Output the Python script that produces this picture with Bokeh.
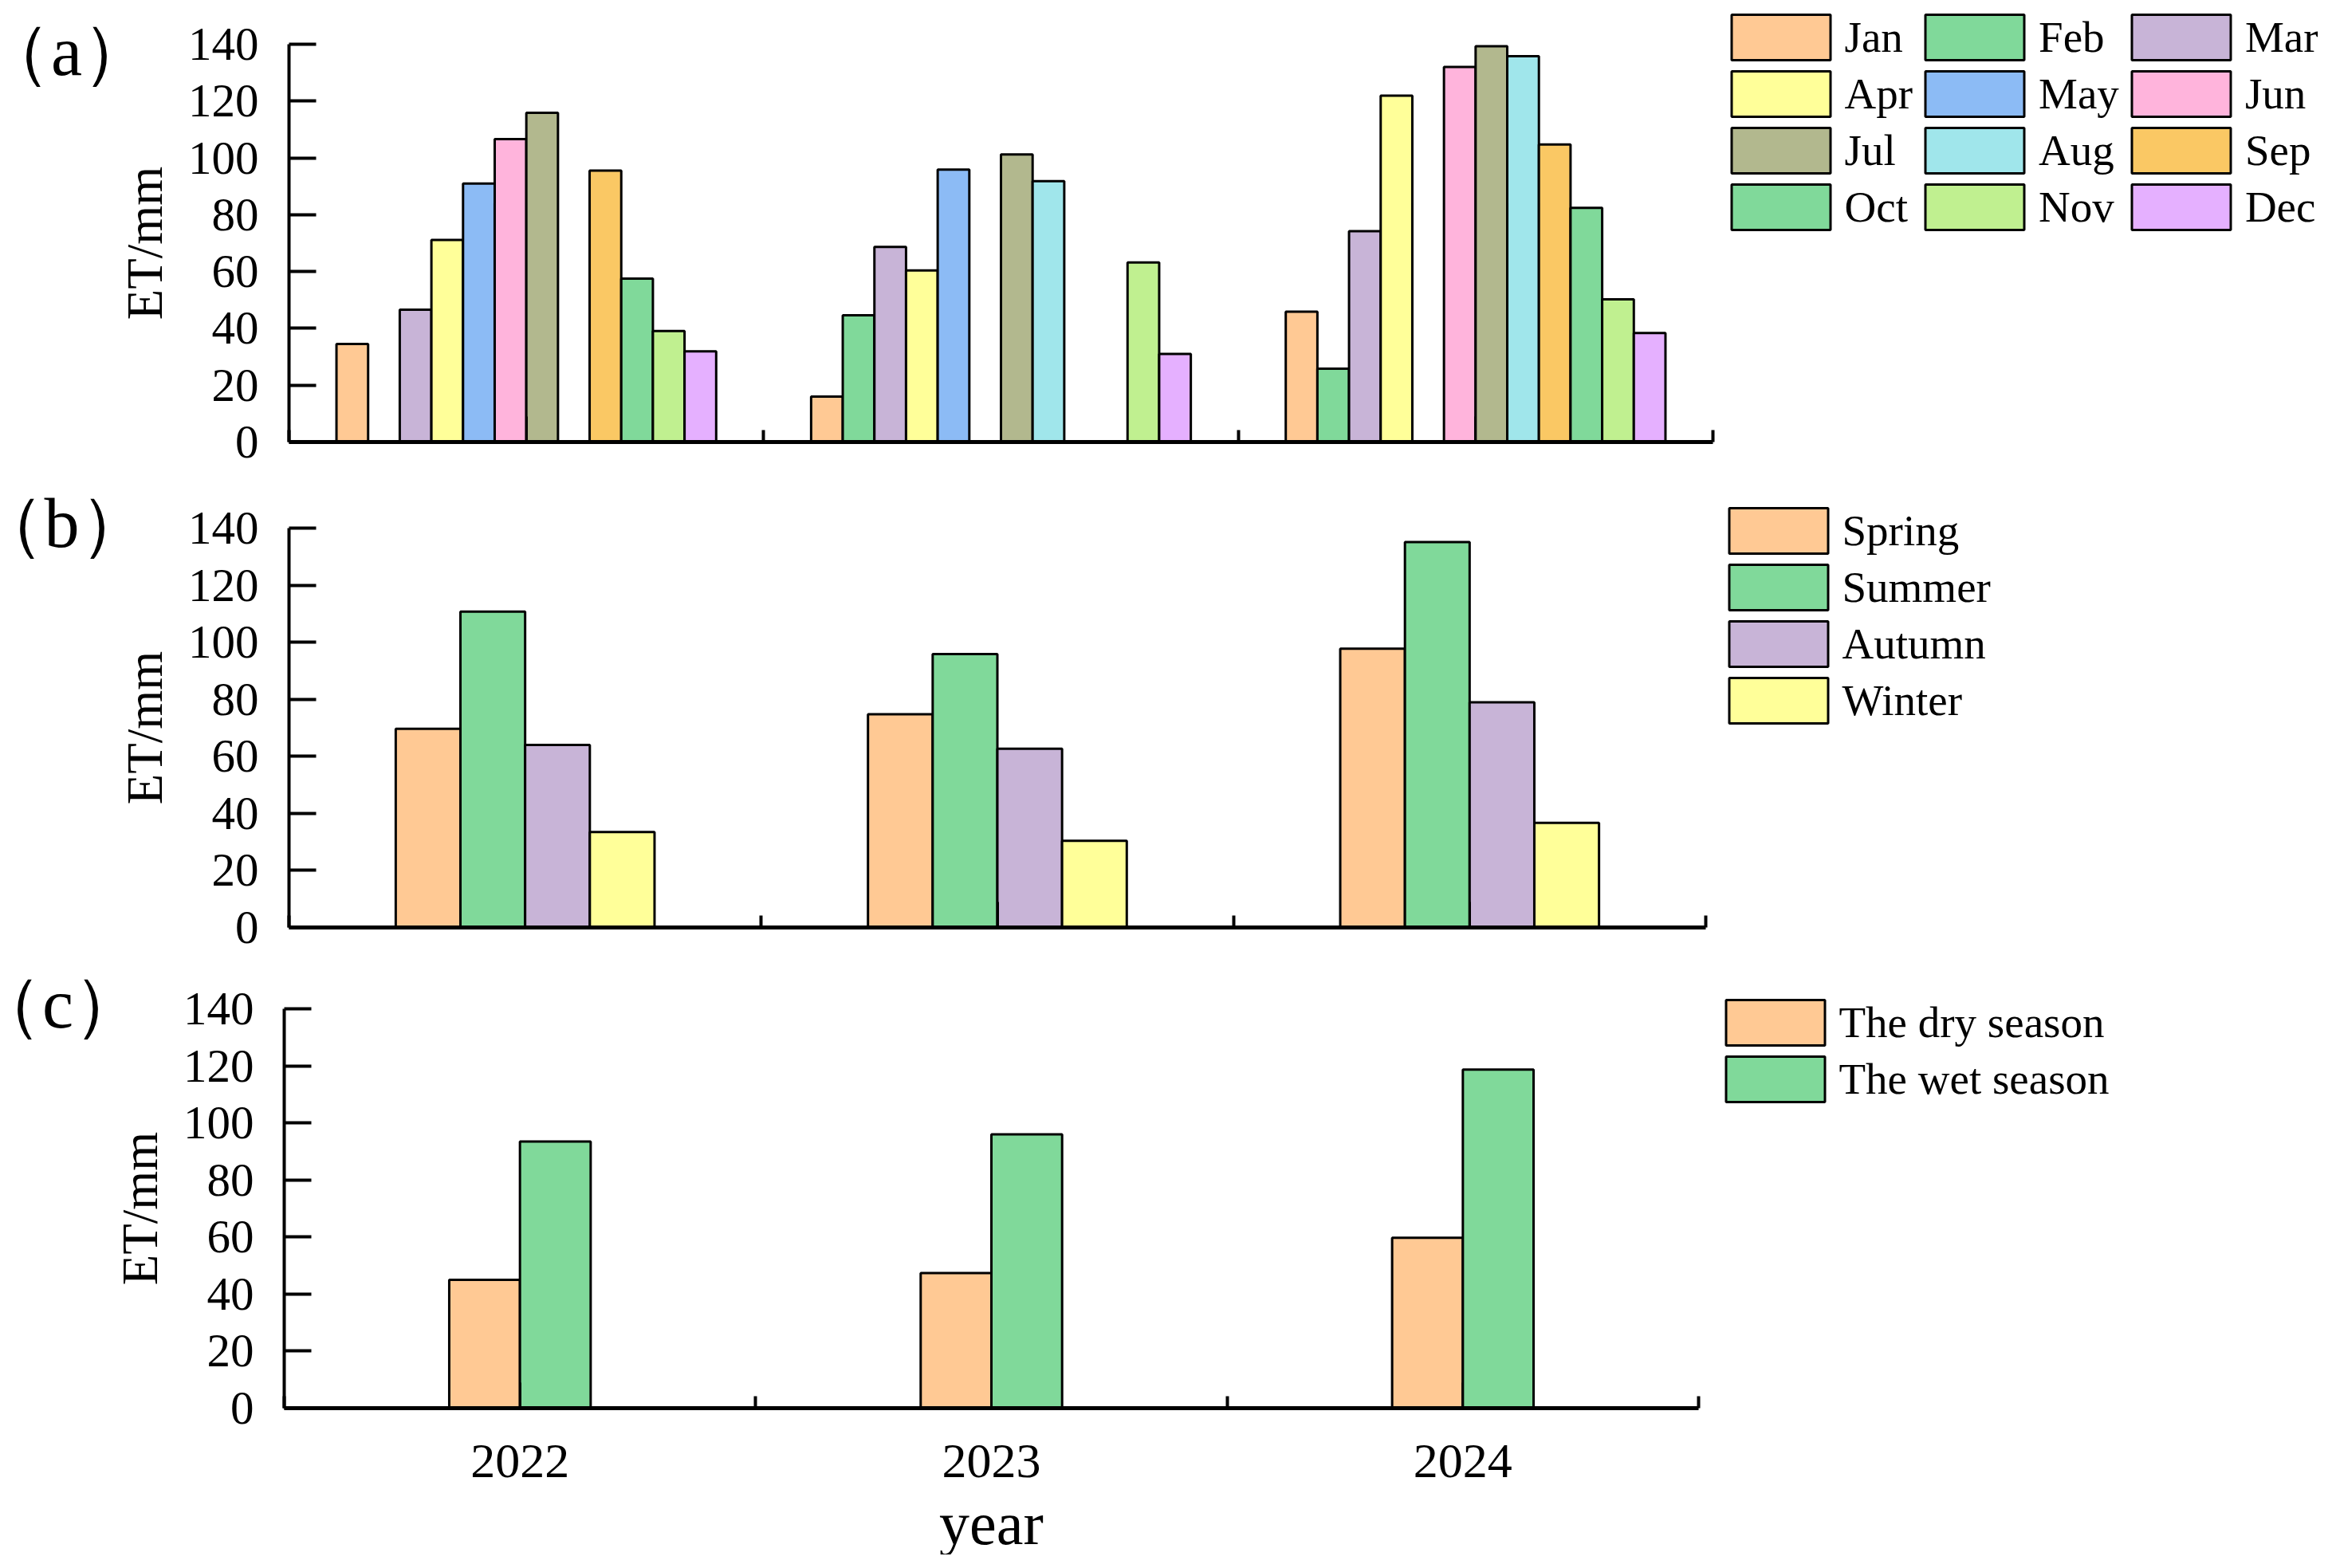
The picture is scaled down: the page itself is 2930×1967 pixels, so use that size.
import numpy as np
from bokeh.plotting import figure
from bokeh.models import (Range1d, FixedTicker, Legend, LegendItem, Label,
                          ColumnDataSource, LinearAxis)
from bokeh.layouts import column
from bokeh.embed import file_html
from bokeh.resources import INLINE

# ---------------- data ----------------
years = ["2022", "2023", "2024"]
months = ["Jan", "Feb", "Mar", "Apr", "May", "Jun", "Jul", "Aug", "Sep", "Oct", "Nov", "Dec"]
et_2022 = [34.5, None, 46.6, 71.1, 91.0, 106.6, 115.9, None, 95.5, 57.5, 39.1, 31.9]
et_2023 = [16.0, 44.6, 68.7, 60.4, 95.9, None, 101.2, 91.8, None, None, 63.2, 31.0]
et_2024 = [45.9, 25.8, 74.2, 121.9, None, 132.0, 139.3, 135.8, 104.7, 82.4, 50.2, 38.4]

seasons = ["Spring", "Summer", "Autumn", "Winter"]
spring = [69.6, 74.7, 97.7]
summer = [110.7, 95.8, 135.1]
autumn = [63.9, 62.6, 78.9]
winter = [33.4, 30.3, 36.6]

periods = ["The dry season", "The wet season"]
dry = [45.0, 47.4, 59.7]
wet = [93.5, 96.0, 118.7]

y_ticks = [0, 20, 40, 60, 80, 100, 120, 140]

month_colors = ["#FFC994", "#80D99A", "#C8B4D7", "#FFFF99", "#8CBBF5", "#FFB4DC",
                "#B2B88E", "#A0E6EB", "#FAC864", "#80D99A", "#C0F090", "#E5B0FF"]
season_colors = ["#FFC994", "#80D99A", "#C8B4D7", "#FFFF99"]
period_colors = ["#FFC994", "#80D99A"]

FONT = "Liberation Serif"
W = 2922          # figure width
PAGE_L = 0        # picture origin of the figures
# legend glyph box (Bokeh insets the drawn swatch by 10% on every side)
GW, GH, GAP = 155, 71, 0
INSET_X, INSET_Y = GW * 0.1, GH * 0.1


def lin(p, p0, v0, p1, v1):
    return v0 + (p - p0) * (v1 - v0) / (p1 - p0)


def make_fig(fig_top, height, ax_left, ax_right, ax_top, ax_zero, show_x):
    """Frame covers whole figure; axes drawn at fixed locations inside it."""
    fig_bot = fig_top + height
    xr = Range1d(lin(PAGE_L, ax_left, -0.5, ax_right, 2.5),
                 lin(PAGE_L + W, ax_left, -0.5, ax_right, 2.5))
    yr = Range1d(lin(fig_bot, ax_zero, 0, ax_top, 140),
                 lin(fig_top, ax_zero, 0, ax_top, 140))
    p = figure(width=W, height=height, x_range=xr, y_range=yr,
               x_axis_location=None, y_axis_location=None,
               output_backend="svg", toolbar_location=None,
               min_border=0, min_border_top=0, min_border_left=0,
               min_border_right=0, min_border_bottom=0)
    p.grid.visible = False
    p.outline_line_color = None
    p.background_fill_color = "white"
    p.border_fill_color = "white"

    yax = LinearAxis(fixed_location=-0.5, bounds=(0, 140),
                     ticker=FixedTicker(ticks=y_ticks, minor_ticks=[]))
    yax.axis_line_width = 4
    yax.major_tick_line_width = 4
    yax.major_tick_in = 34
    yax.major_tick_out = 0
    yax.minor_tick_line_color = None
    yax.major_label_text_font = FONT
    yax.major_label_text_font_size = "59px"
    yax.major_label_text_color = "black"
    yax.major_label_standoff = 38
    yax.axis_label = "ET/mm"
    yax.axis_label_text_font = FONT
    yax.axis_label_text_font_size = "63px"
    yax.axis_label_text_font_style = "normal"
    yax.axis_label_text_color = "black"
    yax.axis_label_standoff = 16
    p.add_layout(yax, "left")

    # boundary ticks (short) + axis line
    xb = LinearAxis(fixed_location=0, bounds=(-0.5, 2.5),
                    ticker=FixedTicker(ticks=[], minor_ticks=[-0.5, 0.5, 1.5, 2.5]))
    xb.axis_line_width = 5
    xb.minor_tick_line_width = 4
    xb.minor_tick_in = 15
    xb.minor_tick_out = 0
    xb.major_tick_line_color = None
    p.add_layout(xb, "below")

    # centre ticks (long)
    if show_x:
        xc = LinearAxis(fixed_location=0, bounds=(-0.5, 2.5),
                        ticker=FixedTicker(ticks=[0, 1, 2], minor_ticks=[]))
        xc.major_tick_line_width = 3
        xc.major_tick_in = 32
        xc.major_tick_out = 0
        xc.major_label_overrides = {i: y for i, y in enumerate(years)}
        xc.major_label_text_font = FONT
        xc.major_label_text_font_size = "62px"
        xc.major_label_text_color = "black"
        xc.major_label_standoff = 46
        xc.axis_label = "year"
        xc.axis_label_text_font = FONT
        xc.axis_label_text_font_size = "76px"
        xc.axis_label_text_font_style = "normal"
        xc.axis_label_text_color = "black"
        xc.axis_label_standoff = 13
        xc.minor_tick_line_color = None
    else:
        xc = LinearAxis(fixed_location=0, bounds=(-0.5, 2.5),
                        ticker=FixedTicker(ticks=[], minor_ticks=[0, 1, 2]))
        xc.major_tick_line_color = None
        xc.minor_tick_line_color = "black"
        xc.minor_tick_line_width = 3
        xc.minor_tick_in = 32
        xc.minor_tick_out = 0
    xc.axis_line_color = None
    p.add_layout(xc, "below")
    return p


def add_legend(p, items, swatch_left, swatch_top_from_bottom, ncols=1):
    """Place legend so that the first drawn swatch's top-left lands at the target."""
    nrows = -(-len(items) // ncols)
    leg_h = nrows * GH + (nrows - 1) * GAP
    top = swatch_top_from_bottom + INSET_Y
    leg = Legend(items=items, location=(swatch_left - INSET_X, top - leg_h),
                 orientation="horizontal" if ncols > 1 else "vertical",
                 ncols=ncols, label_text_font=FONT, label_text_font_size="55px",
                 label_text_color="black", glyph_width=GW, glyph_height=GH,
                 label_height=GH, label_standoff=3, spacing=GAP, padding=0, margin=0,
                 border_line_alpha=0, background_fill_alpha=0)
    p.add_layout(leg)


def add_tag(p, text, x, y):
    p.add_layout(Label(x=x, y=y, x_units="screen", y_units="screen", text=text,
                       text_font=FONT, text_font_size="88px", text_color="black",
                       text_align="center", text_baseline="middle"))


yr_idx = np.arange(len(years))

# ---------------- (a) monthly ----------------
TOP_A, H_A = 0, 580
fa = make_fig(TOP_A, H_A, 362, 2148, 55, 554, False)
wa = 0.8 / 12
items_a = []
for m, name in enumerate(months):
    tops = [np.nan if v is None else v for v in (et_2022[m], et_2023[m], et_2024[m])]
    src = ColumnDataSource(dict(x=yr_idx + (m - 5.5) * wa, top=tops))
    r = fa.vbar(x="x", top="top", width=wa, bottom=0, source=src,
                fill_color=month_colors[m], line_color="black", line_width=3)
    items_a.append(LegendItem(label=name, renderers=[r]))
add_legend(fa, items_a, 2171 - PAGE_L, TOP_A + H_A - 18, ncols=3)
add_tag(fa, "（a）", 83 - PAGE_L, TOP_A + H_A - 64)

# ---------------- (b) seasonal ----------------
TOP_B, H_B = TOP_A + H_A, 610
fb = make_fig(TOP_B, H_B, 362, 2139, 662, 1162.6, False)
wb = 0.137
items_b = []
for k, (name, vals) in enumerate(zip(seasons, [spring, summer, autumn, winter])):
    src = ColumnDataSource(dict(x=yr_idx + (k - 1.5) * wb, top=vals))
    r = fb.vbar(x="x", top="top", width=wb, bottom=0, source=src,
                fill_color=season_colors[k], line_color="black", line_width=3)
    items_b.append(LegendItem(label=name, renderers=[r]))
add_legend(fb, items_b, 2168 - PAGE_L, TOP_B + H_B - 637)
add_tag(fb, "（b）", 77 - PAGE_L, TOP_B + H_B - 656)

# ---------------- (c) dry / wet ----------------
TOP_C, H_C = TOP_B + H_B, 760
fc = make_fig(TOP_C, H_C, 356, 2130, 1265, 1766, True)
wc = 0.15
items_c = []
for k, (name, vals) in enumerate(zip(periods, [dry, wet])):
    src = ColumnDataSource(dict(x=yr_idx + (k - 0.5) * wc, top=vals))
    r = fc.vbar(x="x", top="top", width=wc, bottom=0, source=src,
                fill_color=period_colors[k], line_color="black", line_width=3)
    items_c.append(LegendItem(label=name, renderers=[r]))
add_legend(fc, items_c, 2164 - PAGE_L, TOP_C + H_C - 1254)
add_tag(fc, "（c）", 72 - PAGE_L, TOP_C + H_C - 1259)

page = column(fa, fb, fc, spacing=0)
open("out.html", "w").write(file_html(page, INLINE))
